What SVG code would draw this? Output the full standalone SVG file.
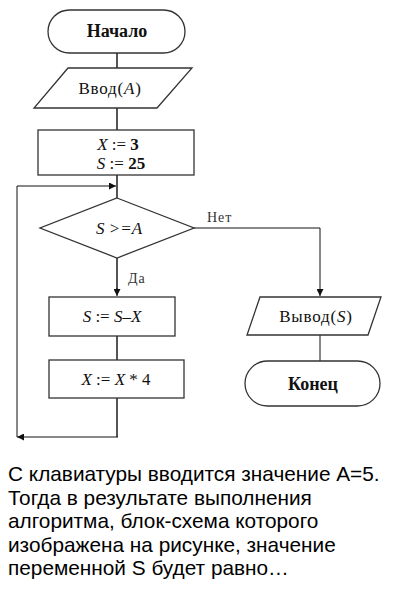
<svg xmlns="http://www.w3.org/2000/svg" width="402" height="598" viewBox="0 0 402 598">
<defs>
<style>
.shape{fill:#fff;stroke:#333;stroke-width:1.3}
.trunk{fill:none;stroke:#555;stroke-width:2}
.thin{fill:none;stroke:#111;stroke-width:1}
.t{font-family:"Liberation Serif","Times New Roman",serif;fill:#111;text-anchor:middle}
.term{font-size:18px;font-weight:bold}
.io{font-size:17px;letter-spacing:0.8px}
.op{font-size:17px}
.lbl{font-family:"Liberation Serif","Times New Roman",serif;font-size:14px;fill:#333;letter-spacing:1px}
.i{font-style:italic}
.b{font-weight:bold}
.q{font-family:"Liberation Sans",Arial,sans-serif;font-size:20.8px;fill:#000}
</style>
<marker id="ah" viewBox="0 0 10 10" refX="10" refY="5" markerWidth="7" markerHeight="7" orient="auto" markerUnits="userSpaceOnUse">
<path d="M0,0 L10,5 L0,10 z" fill="#111"/>
</marker>
</defs>
<g id="connectors">
<line class="trunk" x1="117" y1="53" x2="117" y2="68"/>
<line class="trunk" x1="117" y1="108" x2="117" y2="130"/>
<line class="trunk" x1="117" y1="175" x2="117" y2="198"/>
<line class="trunk" x1="117" y1="258" x2="117" y2="290"/>
<line class="thin" x1="117" y1="288" x2="117" y2="296" marker-end="url(#ah)"/>
<line class="trunk" x1="117" y1="336" x2="117" y2="360"/>
<polyline class="trunk" points="117,398 117,437"/>
<line class="thin" x1="118" y1="437" x2="17" y2="437" marker-end="url(#ah)"/>
<polyline class="thin" points="17,437 17,186 116,186" marker-end="url(#ah)"/>
<polyline class="thin" points="194,228 320,228 320,296" marker-end="url(#ah)"/>
<line class="thin" x1="320" y1="335" x2="320" y2="361"/>
<text class="lbl" x="207" y="222">Нет</text>
<text class="lbl" x="128" y="283">Да</text>
</g>
<g id="start">
<rect class="shape" x="48" y="10" width="137" height="43" rx="21.5" ry="21.5"/>
<text class="t term" x="117" y="37">Начало</text>
</g>
<g id="input">
<polygon class="shape" points="68,68 192,68 157,108 34,108"/>
<text class="t io" x="110" y="94">Ввод(<tspan class="i">A</tspan>)</text>
</g>
<g id="init">
<rect class="shape" x="38" y="130" width="156" height="45"/>
<text class="t op" x="118" y="150"><tspan class="i">X</tspan> := <tspan class="b">3</tspan></text>
<text class="t op" x="121" y="169"><tspan class="i">S</tspan> := <tspan class="b">25</tspan></text>
</g>
<g id="cond">
<polygon class="shape" points="117,198 194,228 117,258 40,228"/>
<text class="t op i" x="119" y="234">S &gt;=A</text>
</g>
<g id="sub">
<rect class="shape" x="49" y="297" width="126" height="39"/>
<text class="t op" x="112" y="322"><tspan class="i">S</tspan> := <tspan class="i">S</tspan>–<tspan class="i">X</tspan></text>
</g>
<g id="mul">
<rect class="shape" x="49" y="360" width="135" height="38"/>
<text class="t op" x="116" y="385"><tspan class="i">X</tspan> := <tspan class="i">X</tspan> * 4</text>
</g>
<g id="output">
<polygon class="shape" points="260,297 381,297 368,335 247,335"/>
<text class="t io" x="316" y="322">Вывод(<tspan class="i">S</tspan>)</text>
</g>
<g id="end">
<rect class="shape" x="245" y="361" width="135" height="45" rx="22.5" ry="22.5"/>
<text class="t term" x="313" y="390">Конец</text>
</g>
<g id="question">
<text class="q" x="8" y="481">С клавиатуры вводится значение А=5.</text>
<text class="q" x="8" y="505">Тогда в результате выполнения</text>
<text class="q" x="8" y="528">алгоритма, блок-схема которого</text>
<text class="q" x="8" y="552">изображена на рисунке, значение</text>
<text class="q" x="8" y="575">переменной S будет равно…</text>
</g>
</svg>
